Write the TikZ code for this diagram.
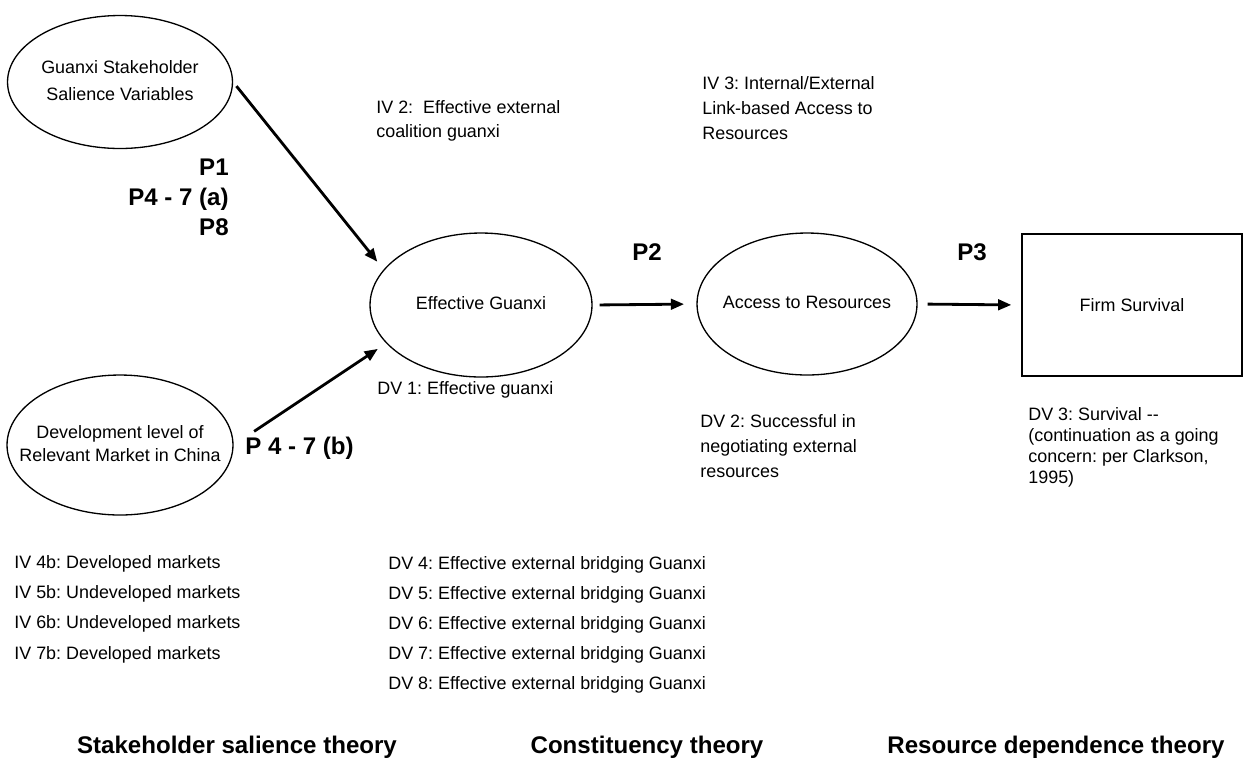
\documentclass[tikz,border=0pt]{standalone}
\usepackage{fontspec}
\setmainfont{Liberation Sans}
\usetikzlibrary{arrows.meta,shapes.geometric}
\frenchspacing

\newcommand{\ovaltext}[1]{\makebox[0pt]{\begin{tabular}{@{}c@{}}#1\end{tabular}}}

\begin{document}
\begin{tikzpicture}[x=0.02cm,y=-0.02cm,
    oval/.style={ellipse,draw,line width=0.75pt,inner sep=0pt,font=\fontsize{10.2}{13}\selectfont},
    note/.style={anchor=west,inner sep=0pt,align=left,font=\fontsize{10.2}{14}\selectfont},
    plabel/.style={inner sep=0pt,font=\fontsize{13.7}{17}\selectfont\bfseries},
    link/.style={line width=1.6pt,-{Triangle[length=7.5pt,width=6pt]}}]
    \useasboundingbox (0,0) rectangle (1246,775);

    \node[oval,minimum width=4.5cm,minimum height=2.66cm,font=\fontsize{10.2}{15.4}\selectfont] (gs) at (120,82)
        {\ovaltext{Guanxi Stakeholder\\Salience Variables}};
    \node[oval,minimum width=4.52cm,minimum height=2.8cm] (dev) at (120,445)
        {\ovaltext{Development level of\\Relevant Market in China}};
    \node[oval,minimum width=4.44cm,minimum height=2.88cm] (eg) at (481,305)
        {\ovaltext{Effective Guanxi}};
    \node[oval,minimum width=4.4cm,minimum height=2.84cm] (acc) at (807,304)
        {\ovaltext{Access to Resources}};
    \node[draw,line width=0.8pt,minimum width=4.4cm,minimum height=2.84cm,font=\fontsize{10.2}{13}\selectfont] (fs) at (1132,305)
        {Firm Survival};

    \draw[link,shorten <=3pt,shorten >=5.7pt] (gs.east) -- (eg.160);
    \draw[link,shorten <=14pt,shorten >=5.7pt] (dev.east) -- (eg.202);
    \draw[link,shorten <=4pt,shorten >=7pt] (eg.east) -- (acc.west);
    \draw[link,shorten <=5.7pt,shorten >=5.7pt] (acc.east) -- (fs.west);

    \node[plabel,anchor=east,align=right] (pa) at (229,197) {P1\\P4 - 7 (a)\\P8};
    \node[plabel,anchor=west] (pb) at (245,448) {P 4 - 7 (b)};
    \node[plabel] (ptwo) at (647,252) {P2};
    \node[plabel] (pthree) at (972,252) {P3};

    \node[note] (ivtwo) at (376,121) {IV 2:~ Effective external\\coalition guanxi};
    \node[note] (ivthree) at (702,108) {IV 3: Internal/External\\Link-based Access to\\Resources};
    \node[note] (dvone) at (377,390) {DV 1: Effective guanxi};
    \node[note] (dvtwo) at (700,446) {DV 2: Successful in\\negotiating external\\resources};
    \node[note,font=\fontsize{10.2}{12}\selectfont] (dvthree) at (1028,447)
        {DV 3: Survival -{}-\\(continuation as a going\\concern: per Clarkson,\\1995)};

    \node[note,font=\fontsize{10.2}{17.3}\selectfont] (ivlist) at (14,609)
        {IV 4b: Developed markets\\IV 5b: Undeveloped markets\\IV 6b: Undeveloped markets\\IV 7b: Developed markets};
    \node[note,font=\fontsize{10.2}{17}\selectfont] (dvlist) at (388,625)
        {DV 4: Effective external bridging Guanxi\\DV 5: Effective external bridging Guanxi\\DV 6: Effective external bridging Guanxi\\DV 7: Effective external bridging Guanxi\\DV 8: Effective external bridging Guanxi};

    \node[plabel] (thss) at (237,747) {Stakeholder salience theory};
    \node[plabel] (thc) at (647,747) {Constituency theory};
    \node[plabel] (thrd) at (1056,747) {Resource dependence theory};
\end{tikzpicture}
\end{document}
